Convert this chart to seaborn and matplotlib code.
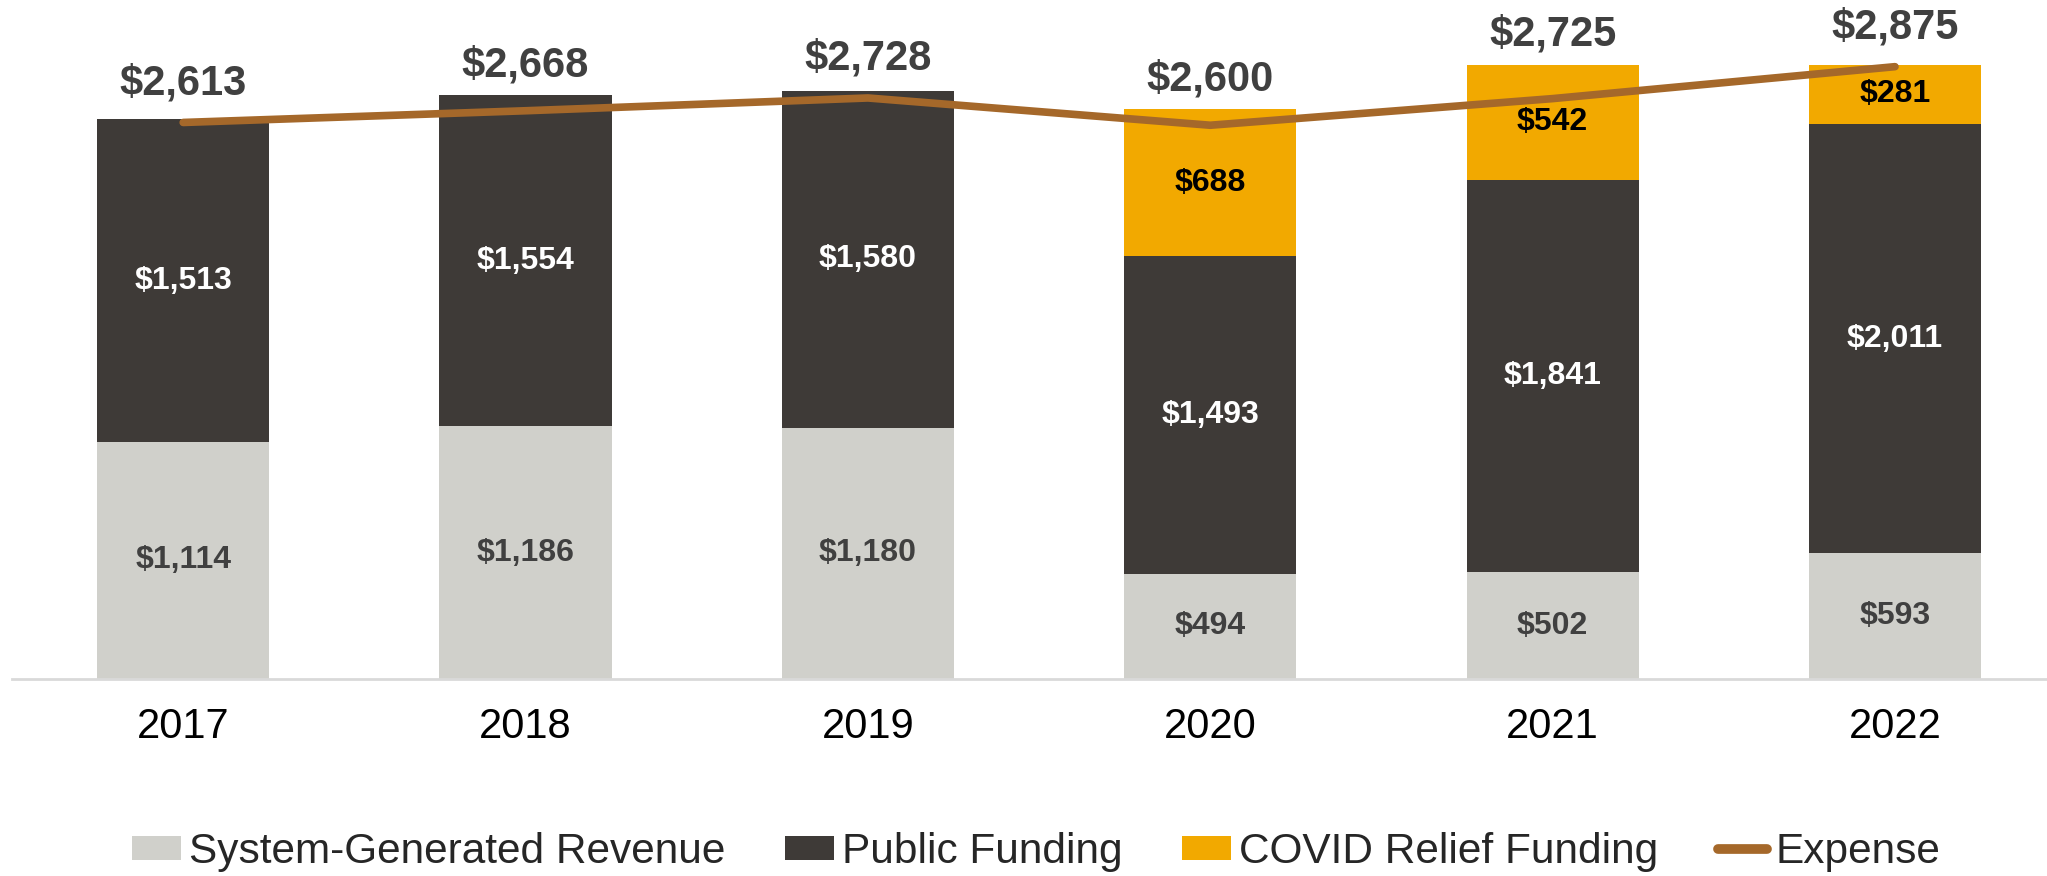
import numpy as np
import pandas as pd
import matplotlib
matplotlib.use("Agg")
import matplotlib.pyplot as plt
from matplotlib.patches import Patch
from matplotlib.lines import Line2D
import seaborn as sns

years = ["2017", "2018", "2019", "2020", "2021", "2022"]
system_revenue = [1114, 1186, 1180, 494, 502, 593]
public_funding = [1513, 1554, 1580, 1493, 1841, 2011]
covid_relief = [0, 0, 0, 688, 542, 281]
expense = [2613, 2668, 2728, 2600, 2725, 2875]

C_SYS = "#D0D0CB"
C_PUB = "#3E3A37"
C_COVID = "#F2A900"
C_EXP = "#A5682A"
C_TXT = "#404040"

sns.set_theme(style="white")
plt.rcParams["font.family"] = ["Liberation Sans", "DejaVu Sans"]

sysr = np.array(system_revenue, dtype=float)
pub = np.array(public_funding, dtype=float)
cov = np.array(covid_relief, dtype=float)
exp_ = np.array(expense, dtype=float)
lvl1 = sysr
lvl2 = sysr + pub
lvl3 = sysr + pub + cov

fig = plt.figure(figsize=(20.47, 8.76), dpi=100)
ax = fig.add_axes([12 / 2047, 197 / 876, 2035 / 2047, 679 / 876])

df = pd.DataFrame({"year": years, "l1": lvl1, "l2": lvl2, "l3": lvl3})
bw = 0.503
sns.barplot(data=df, x="year", y="l3", color=C_COVID, width=bw, saturation=1, linewidth=0, ax=ax)
sns.barplot(data=df, x="year", y="l2", color=C_PUB, width=bw, saturation=1, linewidth=0, ax=ax)
sns.barplot(data=df, x="year", y="l1", color=C_SYS, width=bw, saturation=1, linewidth=0, ax=ax)

xpos = np.arange(len(years))
sns.lineplot(x=xpos, y=exp_, color=C_EXP, linewidth=5.5, ax=ax, solid_capstyle="round", legend=False)

# segment labels
for i in range(len(years)):
    ax.text(i, sysr[i] / 2, f"${int(sysr[i]):,}", ha="center", va="center",
            fontsize=23, fontweight="bold", color=C_TXT)
    ax.text(i, sysr[i] + pub[i] / 2, f"${int(pub[i]):,}", ha="center", va="center",
            fontsize=23, fontweight="bold", color="white")
    if cov[i] > 0:
        ax.text(i, lvl2[i] + cov[i] / 2, f"${int(cov[i]):,}", ha="center", va="center",
                fontsize=23, fontweight="bold", color="black")
    ytop = max(exp_[i] + 185, lvl3[i] + 140)
    ax.text(i, ytop, f"${int(exp_[i]):,}", ha="center", va="center",
            fontsize=30, fontweight="bold", color=C_TXT)

ax.set_ylim(0, 3188)
ax.set_xlim(-0.5, 5.444)
ax.set_xlabel("")
ax.set_ylabel("")
ax.set_yticks([])
ax.tick_params(axis="x", length=0, pad=20, labelsize=30, labelcolor="black")
for s in ["top", "right", "left"]:
    ax.spines[s].set_visible(False)
ax.spines["bottom"].set_color("#D9D9D9")
ax.spines["bottom"].set_linewidth(2)

handles = [
    Patch(facecolor=C_SYS, edgecolor="none", label="System-Generated Revenue"),
    Patch(facecolor=C_PUB, edgecolor="none", label="Public Funding"),
    Patch(facecolor=C_COVID, edgecolor="none", label="COVID Relief Funding"),
    Line2D([0], [0], color=C_EXP, linewidth=7, solid_capstyle="round", label="Expense"),
]
fig.legend(handles=handles, loc="center", bbox_to_anchor=(1036 / 2047, 24 / 876), ncol=4,
           frameon=False, fontsize=30.5, handlelength=1.15, handleheight=0.5,
           handletextpad=0.2, columnspacing=1.4, borderaxespad=0)

fig.savefig("out.png", dpi=100)
